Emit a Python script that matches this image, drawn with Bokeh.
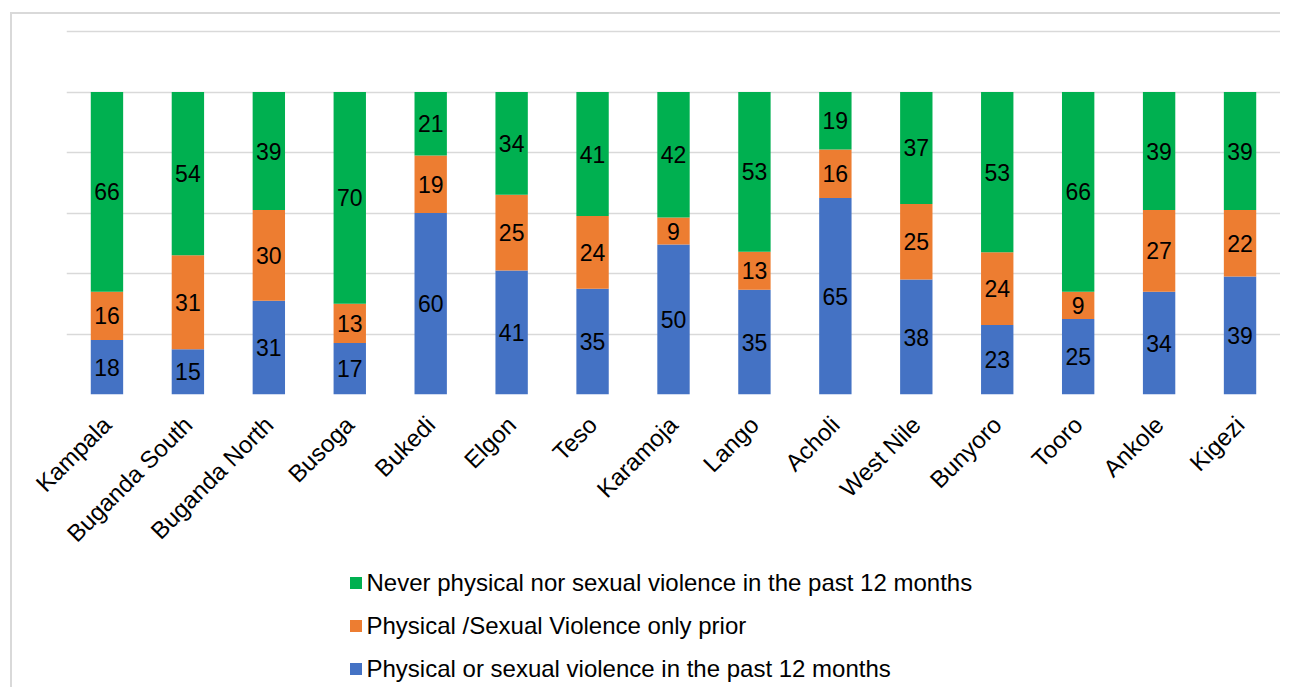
import math
from bokeh.plotting import figure
from bokeh.layouts import column
from bokeh.models import (ColumnDataSource, FactorRange, Range1d, FixedTicker,
                          Legend, LegendItem)
from bokeh.core.properties import value
from bokeh.embed import file_html
from bokeh.resources import INLINE

regions = ["Kampala", "Buganda South", "Buganda North", "Busoga", "Bukedi",
           "Elgon", "Teso", "Karamoja", "Lango", "Acholi", "West Nile",
           "Bunyoro", "Tooro", "Ankole", "Kigezi"]
past12 = [18, 15, 31, 17, 60, 41, 35, 49.6, 34.6, 65, 38, 23, 25, 34, 39]
prior_only = [16, 31, 30, 13, 19, 25, 24, 8.9, 12.6, 16, 25, 24, 9, 27, 22]
never = [66, 54, 39, 70, 21, 34, 41, 41.5, 52.8, 19, 37, 53, 66, 39, 39]

series_names = ["Physical or sexual violence in the past 12 months",
                "Physical /Sexual Violence only prior",
                "Never physical nor sexual violence in the past 12 months"]
colors = ["#4472c4", "#ed7d31", "#00b050"]
y_ticks = [0, 20, 40, 60, 80, 100, 120]

FONT = "Liberation Sans"

source = ColumnDataSource(dict(region=regions, past12=past12,
                               prior=prior_only, never=never))

p = figure(x_range=FactorRange(*regions, range_padding=0),
           y_range=Range1d(0, 121),
           width=1280, height=564, output_backend="svg",
           toolbar_location=None,
           min_border_left=66, min_border_right=0,
           min_border_top=28, min_border_bottom=170)

renderers = p.vbar_stack(["past12", "prior", "never"], x="region", width=0.4,
                         color=colors, line_color=None, source=source)

# data labels
lab_x, lab_y, lab_t = [], [], []
for i, r in enumerate(regions):
    base = 0
    for vals in (past12, prior_only, never):
        v = vals[i]
        lab_x.append(r)
        lab_y.append(base + v / 2)
        lab_t.append(f"{v:.0f}")
        base += v
p.text(x=lab_x, y=lab_y, text=lab_t, text_align="center",
       text_baseline="middle", text_font=value(FONT),
       text_font_size="23px", text_color="#000000")

# axes & grid
p.yaxis.visible = False
p.yaxis.ticker = FixedTicker(ticks=y_ticks)
p.ygrid.ticker = FixedTicker(ticks=y_ticks)
p.ygrid.grid_line_color = "#d9d9d9"
p.ygrid.grid_line_width = 1.5
p.xgrid.grid_line_color = None

xa = p.xaxis[0]
xa.axis_line_color = None
xa.major_tick_line_color = None
xa.minor_tick_line_color = None
xa.major_label_orientation = math.pi / 4
xa.major_label_text_font = FONT
xa.major_label_text_font_size = "24px"
xa.major_label_text_color = "#000000"
xa.major_label_standoff = 20

p.outline_line_color = None
p.background_fill_color = "white"
p.border_fill_color = "white"

# legend figure below the chart
lg = figure(x_range=Range1d(0, 1), y_range=Range1d(0, 1),
            width=1280, height=123, output_backend="svg",
            toolbar_location=None,
            min_border_left=0, min_border_right=0,
            min_border_top=0, min_border_bottom=0)
lg.axis.visible = False
lg.grid.grid_line_color = None
lg.outline_line_color = None
proxies = [lg.vbar(x=[10], top=[10], width=0.1, color=c, line_color=None)
           for c in colors]
items = [LegendItem(label=series_names[k], renderers=[proxies[k]])
         for k in (2, 1, 0)]
legend = Legend(items=items, location=(281.5, 4.5),
                glyph_width=15, glyph_height=15, label_height=28,
                spacing=15, label_standoff=4, padding=0, margin=0,
                border_line_color=None, background_fill_alpha=0,
                label_text_font=FONT, label_text_font_size="24px",
                label_text_color="#000000")
lg.add_layout(legend, "center")

layout = column(p, lg, spacing=0)
# light grey chart-area border (top and left edges visible)
layout.stylesheets = [
    ":host::after { content: ''; position: absolute; left: 10px; top: 12px; "
    "width: calc(100% - 10px); height: calc(100% - 12px); "
    "border-left: 2px solid #d9d9d9; border-top: 2px solid #d9d9d9; "
    "box-sizing: border-box; pointer-events: none; }"
]
open("out.html", "w").write(file_html(layout, INLINE))
